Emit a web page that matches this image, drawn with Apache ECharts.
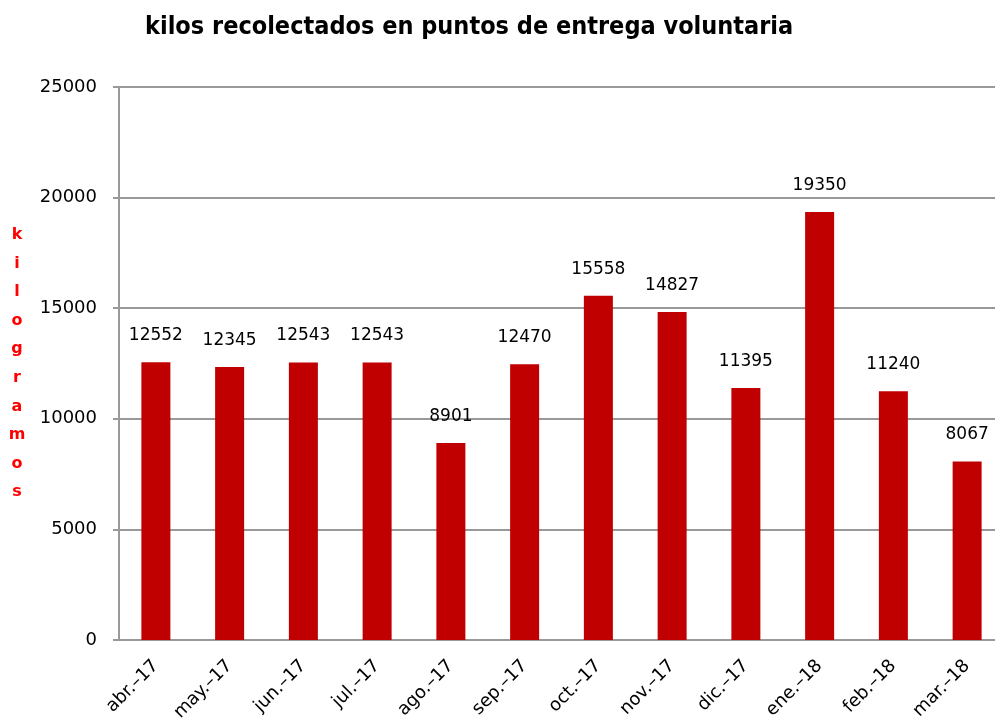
<!DOCTYPE html>
<html>
<head>
<meta charset="utf-8">
<script src="https://cdn.jsdelivr.net/npm/echarts@6/dist/echarts.min.js"></script>
<style>
  html, body { margin: 0; padding: 0; background: #fff; overflow: hidden; }
  /* the original plot runs a little past the right edge of the picture */
  #chart { width: 1004px; height: 720px; }
</style>
</head>
<body>
<div id="chart"></div>
<script>
const months = ["abr.–17", "may.–17", "jun.–17", "jul.–17", "ago.–17", "sep.–17", "oct.–17", "nov.–17", "dic.–17", "ene.–18", "feb.–18", "mar.–18"];
const kilos = [12552, 12345, 12543, 12543, 8901, 12470, 15558, 14827, 11395, 19350, 11240, 8067];
const yTicks = { min: 0, max: 25000, interval: 5000 };
const axisName = "kilogramos";

const font = "DejaVu Sans";
const chart = echarts.init(document.getElementById("chart"));
chart.setOption({
  animation: false,
  title: {
    text: "kilos recolectados en puntos de entrega voluntaria",
    left: 140, top: 10,
    textStyle: { fontFamily: "DejaVu Sans Condensed", fontWeight: "bold", fontSize: 25, color: "#000" },
  },
  grid: { left: 119, right: 0, top: 87, bottom: 80, containLabel: false, outerBoundsMode: "none" },
  xAxis: {
    type: "category",
    data: months,
    axisLine: { lineStyle: { color: "#999", width: 2 } },
    axisTick: { length: 6, lineStyle: { color: "#999", width: 2 } },
    axisLabel: { rotate: 45, margin: 23, fontFamily: font, fontSize: 18, color: "#000", interval: 0 },
  },
  yAxis: {
    type: "value",
    ...yTicks,
    name: axisName.split("").join("\n"),
    nameLocation: "middle",
    nameRotate: 0,
    nameGap: 102,
    nameTextStyle: { fontFamily: font, fontWeight: "bold", fontSize: 16, color: "#ff0000", lineHeight: 28.6, align: "center", verticalAlign: "middle" },
    axisLine: { show: true, lineStyle: { color: "#999", width: 2 } },
    axisTick: { show: true, length: 6, lineStyle: { color: "#999", width: 2 } },
    axisLabel: { margin: 22, fontFamily: font, fontSize: 18, color: "#000", formatter: v => String(v) },
    splitLine: { lineStyle: { color: "#999", width: 2 } },
  },
  series: [{
    type: "bar",
    data: kilos,
    barWidth: 29,
    itemStyle: { color: "#c00000" },
    label: { show: true, position: "top", distance: 18, fontFamily: font, fontSize: 17, color: "#000" },
  }],
});
</script>
</body>
</html>
